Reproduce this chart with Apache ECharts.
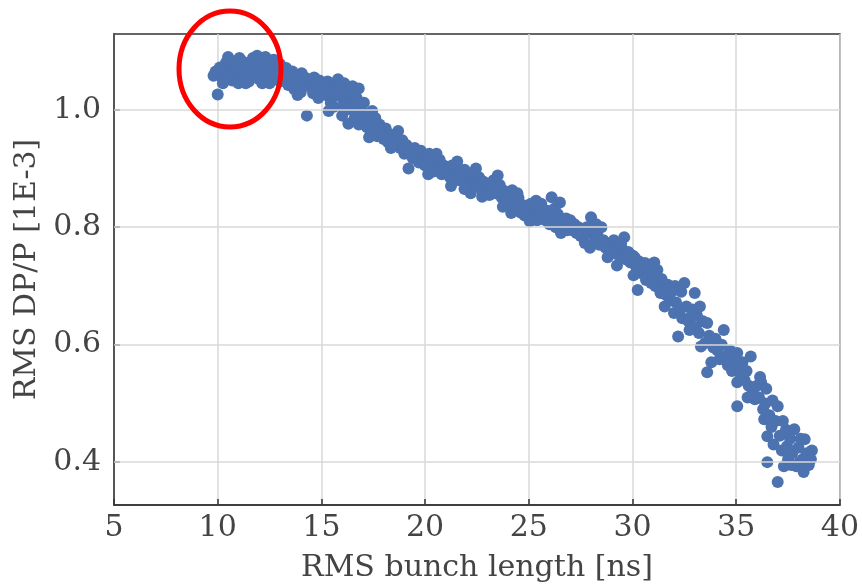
<!DOCTYPE html>
<html>
<head>
<meta charset="utf-8">
<script src="https://cdn.jsdelivr.net/npm/echarts@6/dist/echarts.min.js"></script>
<style>
  html, body { margin: 0; padding: 0; background: #fff; }
  #chart { width: 862px; height: 588px; }
</style>
</head>
<body>
<div id="chart"></div>
<script>
// x: RMS bunch length [ns], y: RMS DP/P [1E-3]
const clusterA = [
  [9.8,1.058],[9.9,1.065],[10.0,1.026],[10.1,1.072],[10.2,1.055],[10.3,1.062],[10.4,1.080],[10.5,1.090],
  [10.6,1.068],[10.7,1.050],[10.8,1.075],[10.9,1.060],[11.0,1.045],[11.1,1.070],[11.2,1.082],[11.3,1.058],
  [11.4,1.066],[11.5,1.048],[11.6,1.075],[11.7,1.088],[11.8,1.062],[11.9,1.092],[12.0,1.052],[12.1,1.070],
  [12.2,1.080],[12.3,1.090],[12.4,1.060],[12.5,1.045],[12.6,1.072],[12.7,1.085],[12.8,1.055],[12.9,1.066],
  [13.0,1.078],[13.0,1.048],[10.45,1.058],[11.05,1.088],[11.55,1.062],[12.15,1.045],[12.65,1.058],
  [10.25,1.045],[10.75,1.082],[11.35,1.045],[11.85,1.072],[12.45,1.082]
];
const clusterB = [
  [13.2,1.060],[13.3,1.071],[13.4,1.042],[13.5,1.052],[13.6,1.065],[13.7,1.035],[13.8,1.048],[13.9,1.058],
  [14.0,1.030],[14.1,1.045],[14.2,1.055],[14.3,0.990],[14.4,1.040],[14.5,1.050],[14.6,1.028],[14.7,1.045],
  [14.8,1.038],[14.9,1.050],[15.0,1.032],[15.1,1.042],[15.2,1.025],[15.3,1.048],[15.4,1.035],[15.5,1.020],
  [15.6,1.042],[15.7,1.030],[15.8,1.052],[15.9,1.038],[16.0,1.020],[16.1,1.045],[16.2,1.030],[16.3,1.010],
  [16.4,1.025],[16.5,1.040],[16.6,1.005],[16.7,1.020],[16.8,1.036],[13.45,1.058],[14.05,1.062],[14.65,1.055],
  [15.25,1.038],[15.85,1.028],[16.45,1.000],[13.85,1.025],[14.85,1.020],[15.45,1.012],[16.05,1.005]
];
const clusterC = [
  [16.9,1.000],[17.0,0.985],[17.1,0.993],[17.2,0.970],[17.3,0.953],[17.4,0.980],[17.5,0.965],[17.6,0.986],
  [17.7,0.955],[17.8,0.975],[17.9,0.960],[18.0,0.950],[18.1,0.968],[18.2,0.945],[18.3,0.958],[18.4,0.950],
  [18.5,0.940],[18.6,0.955],[18.7,0.964],[18.8,0.935],[18.9,0.948],[19.0,0.925],[19.1,0.940],[19.2,0.900],
  [19.3,0.930],[19.4,0.918],[19.5,0.935],[15.35,0.998],[15.6,1.005],[16.0,0.990],[16.3,0.976],[16.6,0.985],
  [16.2,1.000],[17.05,1.012],[17.45,0.998],[18.35,0.935],[16.8,0.975],[17.25,0.990]
];
const clusterD = [
  [19.6,0.925],[19.7,0.910],[19.8,0.930],[19.9,0.915],[20.0,0.905],[20.1,0.920],[20.2,0.925],[20.3,0.908],
  [20.4,0.895],[20.5,0.910],[20.6,0.900],[20.7,0.915],[20.8,0.890],[20.9,0.905],[21.0,0.895],[21.1,0.900],
  [21.2,0.885],[21.3,0.905],[21.4,0.892],[21.5,0.900],[21.6,0.880],[21.7,0.895],[21.8,0.885],[21.9,0.898],
  [22.0,0.875],[22.1,0.870],[22.2,0.858],[22.3,0.885],[22.4,0.890],[22.5,0.872],[22.6,0.885],[22.7,0.865],
  [22.8,0.878],[22.9,0.860],[23.0,0.870],[20.55,0.925],[21.25,0.870],[21.9,0.865],[20.15,0.890],
  [21.55,0.912],[22.45,0.900],[22.75,0.852]
];
const clusterE = [
  [23.1,0.855],[23.2,0.868],[23.3,0.880],[23.4,0.858],[23.5,0.888],[23.6,0.872],[23.7,0.850],[23.8,0.862],
  [23.9,0.845],[24.0,0.855],[24.1,0.838],[24.15,0.824],[24.2,0.863],[24.3,0.845],[24.4,0.832],[24.5,0.850],
  [24.6,0.825],[24.7,0.838],[24.8,0.820],[24.9,0.835],[25.0,0.828],[25.1,0.840],[25.2,0.817],[25.3,0.830],
  [25.4,0.812],[25.5,0.825],[25.6,0.840],[25.7,0.815],[25.8,0.812],[25.9,0.828],[26.0,0.805],[26.1,0.851],
  [26.2,0.815],[26.3,0.800],[26.4,0.822],[26.5,0.842],[26.55,0.790],[26.6,0.810],[26.7,0.800],[26.8,0.815],
  [26.9,0.805],[27.0,0.812],[24.45,0.858],[25.35,0.845],[26.25,0.832],[23.75,0.835],[25.05,0.810],
  [26.85,0.795]
];
const clusterF = [
  [27.1,0.795],[27.2,0.805],[27.3,0.790],[27.4,0.800],[27.5,0.785],[27.7,0.773],[27.8,0.800],[27.9,0.790],
  [28.0,0.817],[28.1,0.795],[28.2,0.780],[28.3,0.790],[28.4,0.770],[28.5,0.800],[28.6,0.778],[28.7,0.765],
  [28.8,0.749],[28.9,0.772],[29.0,0.760],[29.1,0.778],[29.2,0.755],[29.3,0.768],[29.4,0.750],[29.5,0.762],
  [29.6,0.783],[29.7,0.745],[29.8,0.758],[29.9,0.740],[30.0,0.752],[30.1,0.749],[30.2,0.730],[30.25,0.693],
  [30.3,0.742],[30.4,0.722],[30.5,0.735],[30.6,0.739],[29.25,0.735],[28.25,0.805],[27.95,0.765],
  [29.45,0.772],[30.05,0.718],[30.65,0.710]
];
const clusterG = [
  [30.7,0.715],[30.8,0.728],[30.9,0.705],[31.0,0.720],[31.1,0.700],[31.2,0.727],[31.3,0.695],[31.35,0.688],
  [31.4,0.712],[31.5,0.700],[31.6,0.685],[31.7,0.702],[31.8,0.675],[31.9,0.690],[32.0,0.654],[32.1,0.672],
  [32.2,0.614],[32.3,0.660],[32.4,0.645],[32.5,0.705],[32.6,0.665],[32.7,0.640],[32.8,0.647],[32.9,0.660],
  [33.0,0.688],[33.05,0.630],[33.1,0.650],[33.2,0.620],[33.3,0.597],[33.4,0.640],[33.5,0.603],[33.6,0.637],
  [33.7,0.615],[33.8,0.570],[33.9,0.595],[34.0,0.610],[33.6,0.553],[32.35,0.690],[31.05,0.740],[32.75,0.625],
  [31.55,0.665],[32.05,0.700],[33.25,0.665]
];
const clusterH = [
  [34.1,0.590],[34.2,0.575],[34.3,0.600],[34.4,0.625],[34.5,0.580],[34.6,0.565],[34.7,0.590],[34.8,0.555],
  [34.9,0.575],[35.0,0.560],[35.05,0.586],[35.05,0.536],[35.05,0.495],[35.2,0.550],[35.3,0.570],[35.4,0.540],
  [35.5,0.555],[35.6,0.530],[35.7,0.580],[35.8,0.520],[35.9,0.507],[36.0,0.530],[36.1,0.510],[36.2,0.536],
  [36.3,0.490],[36.35,0.473],[36.4,0.500],[36.5,0.444],[36.5,0.400],[36.6,0.480],[36.7,0.460],[36.8,0.430],
  [36.9,0.470],[37.0,0.495],[37.0,0.366],[37.1,0.445],[37.2,0.420],[37.3,0.393],[37.4,0.455],[37.45,0.427],
  [37.5,0.405],[37.6,0.440],[37.7,0.415],[37.8,0.456],[37.9,0.393],[38.0,0.425],[38.1,0.440],[38.2,0.405],
  [38.25,0.383],[38.3,0.439],[38.4,0.415],[38.5,0.395],[38.6,0.405],[38.65,0.420],[36.75,0.505],[37.25,0.470],
  [36.15,0.545],[35.55,0.510],[36.45,0.525],[37.65,0.395],[38.05,0.400]
];
const points = [].concat(clusterA, clusterB, clusterC, clusterD, clusterE, clusterF, clusterG, clusterH);

const yTicks = [0.4, 0.6, 0.8, 1.0];
const xMin = 5, xMax = 40, xStep = 5;
const yMin = 0.327, yMax = 1.129;

const font = "DejaVu Serif";
const textColor = "#444";
const frameColor = "#333";
const gridColor = "#d8d8d8";

const chart = echarts.init(document.getElementById("chart"));
chart.setOption({
  animation: false,
  backgroundColor: "#fff",
  grid: {
    left: 114, right: 18, top: 34, bottom: 82,
    show: true,
    borderColor: frameColor,
    borderWidth: 1.5,
    backgroundColor: "transparent",
  },
  xAxis: {
    type: "value",
    min: xMin, max: xMax, interval: xStep,
    name: "RMS bunch length [ns]",
    nameLocation: "middle",
    nameGap: 48,
    nameTextStyle: { fontFamily: font, fontSize: 30, color: textColor },
    axisLine: { show: true, lineStyle: { color: frameColor, width: 1.5 } },
    axisTick: { show: true, inside: true, length: 6, lineStyle: { color: frameColor, width: 1.5 } },
    axisLabel: { fontFamily: font, fontSize: 30, color: textColor, margin: 8 },
    splitLine: { show: true, lineStyle: { color: gridColor, width: 1.5 } },
  },
  yAxis: {
    type: "value",
    min: yMin, max: yMax,
    name: "RMS DP/P [1E-3]",
    nameLocation: "middle",
    nameGap: 72,
    nameTextStyle: { fontFamily: font, fontSize: 30, color: textColor },
    axisLine: { show: true, lineStyle: { color: frameColor, width: 1.5 } },
    axisTick: {
      show: true, inside: true, length: 6,
      customValues: yTicks,
      lineStyle: { color: frameColor, width: 1.5 },
    },
    axisLabel: {
      fontFamily: font, fontSize: 30, color: textColor, margin: 13,
      customValues: yTicks,
      formatter: (v) => v.toFixed(1),
    },
    splitLine: { show: false },
  },
  series: [
    {
      // 横向网格线
      type: "scatter",
      data: [],
      z: 1,
      silent: true,
      markLine: {
        silent: true,
        symbol: "none",
        label: { show: false },
        lineStyle: { color: gridColor, width: 1.5, type: "solid" },
        data: yTicks.map((v) => ({ yAxis: v })),
      },
    },
    {
      type: "scatter",
      data: points,
      symbolSize: 12,
      z: 3,
      itemStyle: { color: "#4C72B0", opacity: 1 },
    },
  ],
  graphic: [
    {
      type: "ellipse",
      shape: { cx: 230, cy: 69, rx: 51, ry: 58 },
      style: { fill: "none", stroke: "#f00", lineWidth: 5 },
      z: 100,
    },
  ],
});
</script>
</body>
</html>
